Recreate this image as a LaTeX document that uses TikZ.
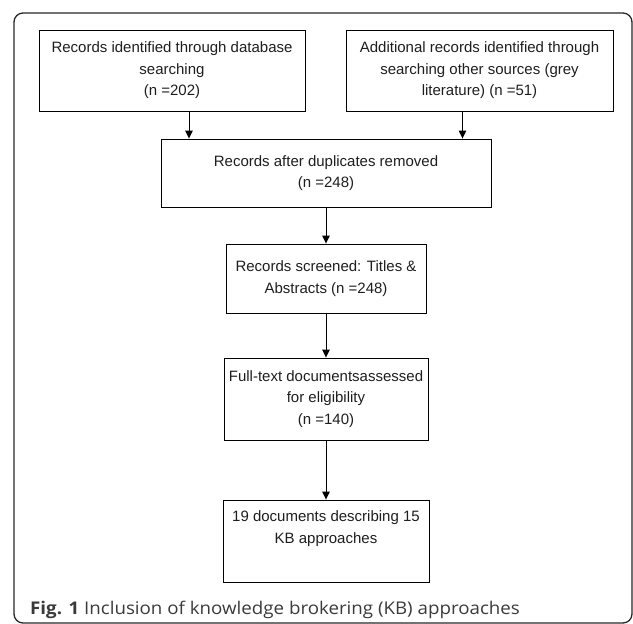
\documentclass[tikz,border=0pt]{standalone}
\usepackage{fontspec}
\setmainfont{Liberation Sans}
\newfontfamily\capfont{Open Sans}
\usepackage{tikz}
\usetikzlibrary{positioning}
\usetikzlibrary{arrows.meta}
\usetikzlibrary{calc}
\definecolor{boxtext}{HTML}{1E1E1E}
\definecolor{captext}{HTML}{3A3A3A}
\tikzstyle{flowbox}=[rectangle,draw=black,line width=0.9pt,inner sep=0pt,align=center,text=boxtext,font=\fontsize{15}{21.5}\selectfont]
\tikzstyle{edge} = [draw,line width=0.9pt,-{Triangle[length=8pt,width=7.5pt]}]
\tikzstyle{caption} = [anchor=base west,inner sep=0pt,text=captext,font=\capfont\fontsize{17.5}{20}\selectfont]

\begin{document}
\begin{tikzpicture}[x=1pt,y=-1pt]

  \useasboundingbox (0,0) rectangle (633,624);

  % outer frame
  \draw[rounded corners=9pt, line width=1.3pt, black!85] (14,13) rectangle (632,623);

   \foreach \x/\y/\w/\h/\name/\label in {
        172/70.5/266/81/db/{Records identified through database\\searching\\(n =202)},
        479.5/70.5/267/81/grey/{Additional records identified through\\searching other sources (grey\\literature) (n =51)},
        326/173/330/68/dedup/{Records after duplicates removed\\(n =248)},
        326/278.5/200/69/screened/{Records screened: Titles \&\\Abstracts (n =248)},
        326/399/204/82/fulltext/{Full-text documentsassessed\\for eligibility\\(n =140)},
        326/541/206/82/included/{19 documents describing 15\\KB approaches\\\strut}}
          \node[flowbox, minimum width=\w, minimum height=\h] (\name) at (\x, \y) {\label};

  % side arrows into the merged box
   \path[edge] ([xshift=17pt]db.south) -- ([xshift=17pt]db.south |- dedup.north);
   \path[edge] ([xshift=-17pt]grey.south) -- ([xshift=-17pt]grey.south |- dedup.north);

  \foreach \source/ \dest in {dedup/screened, screened/fulltext, fulltext/included}
         \path[edge] (\source) -- (\dest);

   \node[caption] (cap) at (30, 614) {\scalebox{1.07}[1]{\textbf{Fig. 1} Inclusion of knowledge brokering (KB) approaches}};

\end{tikzpicture}
\end{document}
